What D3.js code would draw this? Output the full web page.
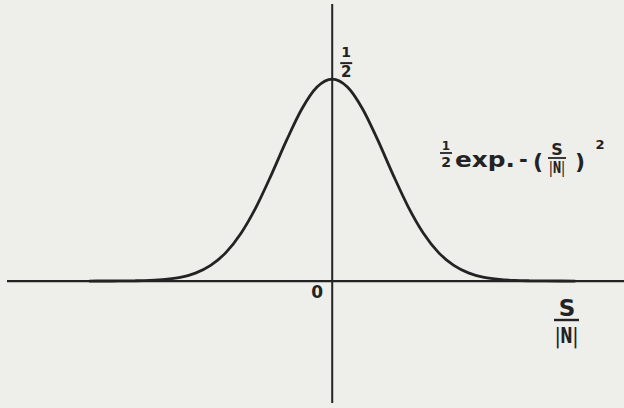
<!DOCTYPE html>
<html>
<head>
<meta charset="utf-8">
<script src="https://cdn.jsdelivr.net/npm/d3@7"></script>
<style>
  html, body { margin: 0; padding: 0; background: #eeeeeb; }
  svg { display: block; }
  text { font-family: "DejaVu Sans", sans-serif; font-weight: bold; fill: #232323; }
</style>
</head>
<body>
<svg id="chart" width="624" height="408"></svg>
<script>
// Sampled abscissa S/|N| and ordinate ½·exp(−(S/|N|)²) along the plotted curve
const sValues = [-3.2, -3.0, -2.8, -2.6, -2.4, -2.2, -2.0, -1.8, -1.6, -1.4, -1.2, -1.0,
                 -0.8, -0.6, -0.4, -0.2, 0.0, 0.2, 0.4, 0.6, 0.8, 1.0, 1.2, 1.4, 1.6,
                 1.8, 2.0, 2.2, 2.4, 2.6, 2.8, 3.0, 3.2];
const fValues = [0.0000, 0.0001, 0.0002, 0.0006, 0.0016, 0.0040, 0.0092, 0.0196, 0.0387,
                 0.0704, 0.1185, 0.1839, 0.2636, 0.3488, 0.4261, 0.4804, 0.5000, 0.4804,
                 0.4261, 0.3488, 0.2636, 0.1839, 0.1185, 0.0704, 0.0387, 0.0196, 0.0092,
                 0.0040, 0.0016, 0.0006, 0.0002, 0.0001, 0.0000];

// Extent of the drawn axes, in data units
const xDomain = [-4.28, 3.84];
const yDomain = [-0.302, 0.686];

// Labels
const originLabel = "0";
const peakValue = 0.5;
const peakLabel = ["1", "2"];
const xAxisLabel = ["S", "|N|"];

const svg = d3.select("#chart");

const x = d3.scaleLinear().domain(xDomain).range([7, 624]);
const y = d3.scaleLinear().domain(yDomain).range([403, 4]);

const ink = "#232323";

// Axes: horizontal S/|N| axis and vertical axis through the origin
svg.append("line")
  .attr("x1", x(xDomain[0])).attr("x2", x(xDomain[1]))
  .attr("y1", y(0)).attr("y2", y(0))
  .attr("stroke", ink).attr("stroke-width", 2.2);

svg.append("line")
  .attr("x1", x(0)).attr("x2", x(0))
  .attr("y1", y(yDomain[1])).attr("y2", y(yDomain[0]))
  .attr("stroke", ink).attr("stroke-width", 2);

// Curve
const pts = sValues.map((s, i) => [s, fValues[i]]);
const line = d3.line()
  .x(d => x(d[0]))
  .y(d => y(d[1]))
  .curve(d3.curveMonotoneX);

svg.append("path")
  .datum(pts)
  .attr("d", line)
  .attr("fill", "none")
  .attr("stroke", ink)
  .attr("stroke-width", 2.8)
  .attr("stroke-linejoin", "round");

// Origin label
svg.append("text")
  .attr("x", x(0) - 15).attr("y", y(0) + 17)
  .attr("text-anchor", "middle")
  .attr("font-size", 17)
  .text(originLabel);

// Peak value ½ beside the vertical axis
const px = x(0) + 14, py = y(peakValue);
svg.append("text")
  .attr("x", px).attr("y", py - 22)
  .attr("text-anchor", "middle").attr("font-size", 14)
  .text(peakLabel[0]);
svg.append("line")
  .attr("x1", px - 6).attr("x2", px + 6)
  .attr("y1", py - 16).attr("y2", py - 16)
  .attr("stroke", ink).attr("stroke-width", 2);
svg.append("text")
  .attr("x", px).attr("y", py - 2)
  .attr("text-anchor", "middle").attr("font-size", 15)
  .text(peakLabel[1]);

// Axis title S / |N|
svg.append("text")
  .attr("x", 567).attr("y", 316)
  .attr("text-anchor", "middle").attr("font-size", 23)
  .text(xAxisLabel[0]);
svg.append("line")
  .attr("x1", 554).attr("x2", 579)
  .attr("y1", 320).attr("y2", 320)
  .attr("stroke", ink).attr("stroke-width", 2.4);
svg.append("text")
  .attr("x", 555).attr("y", 343)
  .attr("font-size", 22)
  .attr("textLength", 23).attr("lengthAdjust", "spacingAndGlyphs")
  .text(xAxisLabel[1]);

// Curve formula: ½ exp. − ( S/|N| )²
const f = svg.append("g");
f.append("text").attr("x", 446).attr("y", 150)
  .attr("text-anchor", "middle").attr("font-size", 12).text("1");
f.append("line").attr("x1", 440).attr("x2", 452)
  .attr("y1", 153).attr("y2", 153)
  .attr("stroke", ink).attr("stroke-width", 1.8);
f.append("text").attr("x", 446).attr("y", 167)
  .attr("text-anchor", "middle").attr("font-size", 14).text("2");
f.append("text").attr("x", 455).attr("y", 167)
  .attr("font-size", 22)
  .attr("textLength", 60).attr("lengthAdjust", "spacingAndGlyphs")
  .text("exp.");
f.append("text").attr("x", 519).attr("y", 167)
  .attr("font-size", 21).text("-");
f.append("text").attr("x", 533).attr("y", 169)
  .attr("font-size", 22).text("(");
f.append("text").attr("x", 557).attr("y", 155)
  .attr("text-anchor", "middle").attr("font-size", 16).text(xAxisLabel[0]);
f.append("line").attr("x1", 548).attr("x2", 566)
  .attr("y1", 158).attr("y2", 158)
  .attr("stroke", ink).attr("stroke-width", 1.8);
f.append("text").attr("x", 549).attr("y", 173)
  .attr("font-size", 15)
  .attr("textLength", 16).attr("lengthAdjust", "spacingAndGlyphs")
  .text(xAxisLabel[1]);
f.append("text").attr("x", 575).attr("y", 169)
  .attr("font-size", 22).text(")");
f.append("text").attr("x", 600).attr("y", 149)
  .attr("text-anchor", "middle").attr("font-size", 13).text("2");
</script>
</body>
</html>
